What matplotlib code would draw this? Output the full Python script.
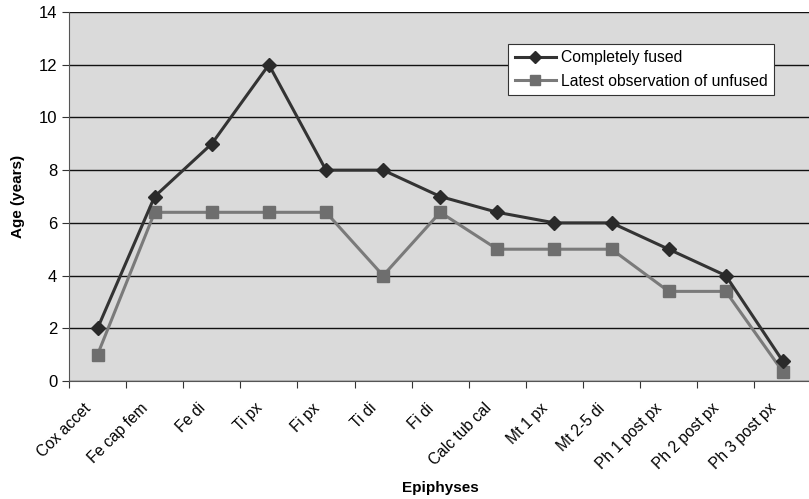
import matplotlib
matplotlib.use("Agg")
import matplotlib.pyplot as plt
import matplotlib.transforms as mtrans

categories = ["Cox accet", "Fe cap fem", "Fe di", "Ti px", "Fi px", "Ti di", "Fi di",
              "Calc tub cal", "Mt 1 px", "Mt 2-5 di", "Ph 1 post px", "Ph 2 post px", "Ph 3 post px"]
fused = [2, 7, 9, 12, 8, 8, 7, 6.4, 6, 6, 5, 4, 0.75]
unfused = [1, 6.4, 6.4, 6.4, 6.4, 4, 6.4, 5, 5, 5, 3.4, 3.4, 0.35]
yticks = [0, 2, 4, 6, 8, 10, 12, 14]

plt.rcParams['font.family'] = ['Liberation Sans', 'DejaVu Sans']
fig = plt.figure(figsize=(8.09, 4.99), dpi=100)
ax = fig.add_axes([69/809, 1-381/499, 1-69/809+0.003, (381-12)/499])
ax.set_facecolor('#dadada')

x = list(range(len(categories)))
ax.plot(x, fused, color='#333333', lw=2.2, marker='D', ms=7, mfc='#2a2a2a', mec='#2a2a2a',
        label='Completely fused', zorder=4)
ax.plot(x, unfused, color='#7a7a7a', lw=2.2, marker='s', ms=8, mfc='#6e6e6e', mec='#6e6e6e',
        label='Latest observation of unfused', zorder=3)

ax.set_xlim(-0.5, len(categories) - 0.5)
ax.set_ylim(0, 14)
ax.set_yticks(yticks)
ax.yaxis.grid(True, color='#111111', lw=1.0)
ax.set_axisbelow(True)
ax.set_xticks([i - 0.5 for i in range(len(categories) + 1)], minor=False)
ax.set_xticklabels([''] * (len(categories) + 1))
ax.set_xticks(x, minor=True)
ax.set_xticklabels(categories, minor=True, rotation=45, ha='right', va='top',
                   fontsize=11.2, rotation_mode='anchor')
ax.tick_params(axis='x', which='minor', length=0, pad=14)
ax.tick_params(axis='x', which='major', length=5, direction='out', color='#333333')
ax.tick_params(axis='y', labelsize=12, length=5, color='#333333')
off = mtrans.ScaledTranslation(-14/100, 0, fig.dpi_scale_trans)
for lab in ax.get_xticklabels(minor=True):
    lab.set_transform(lab.get_transform() + off)
for s in ['top', 'right']:
    ax.spines[s].set_visible(False)
ax.spines['left'].set_color('#555555')
ax.spines['bottom'].set_color('#555555')

ax.set_ylabel('Age (years)', fontsize=11, fontweight='bold', labelpad=10)
ax.set_xlabel('Epiphyses', fontsize=11, fontweight='bold')
ax.xaxis.set_label_coords(0.5, (381 - 481) / 369)

leg = ax.legend(loc='upper left', fontsize=11.3, frameon=True, fancybox=False,
                edgecolor='#333333', framealpha=1, facecolor='white', borderpad=0.4,
                handlelength=2.6, handletextpad=0.35, labelspacing=0.55, borderaxespad=0,
                markerscale=0.9)
leg.get_frame().set_linewidth(0.8)
leg.set_bbox_to_anchor(((507 - 69) / 740, 1 - (44 - 12) / 369), transform=ax.transAxes)

fig.savefig('out.png', dpi=100)
